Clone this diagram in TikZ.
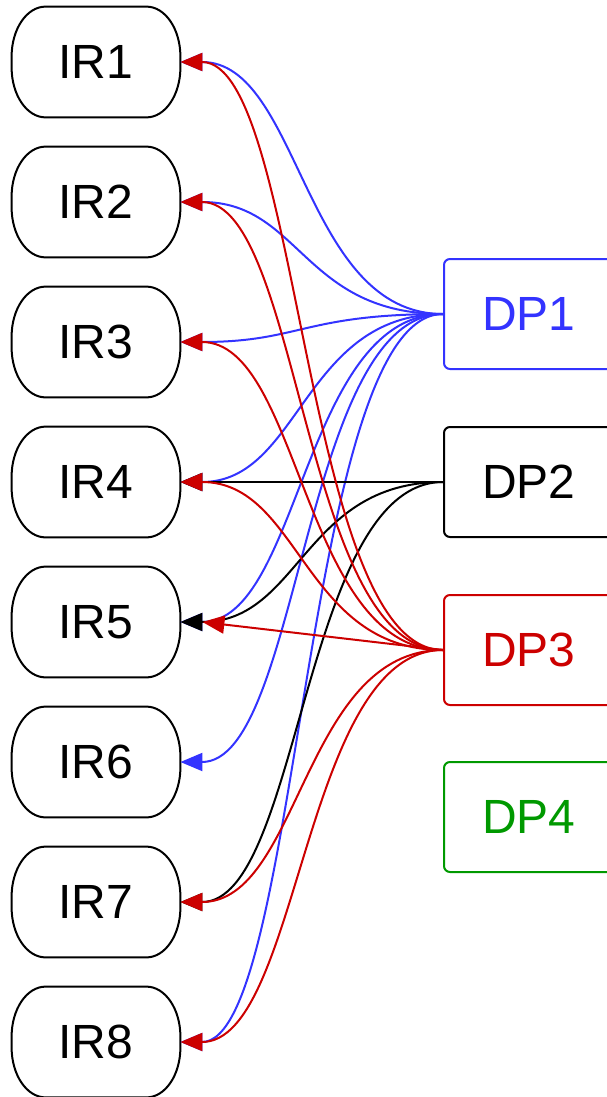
\documentclass[tikz,border=0pt]{standalone}
\usepackage{fontspec}
\setmainfont{Liberation Sans}
\usetikzlibrary{arrows.meta}

\definecolor{dpblue}{HTML}{3333FF}
\definecolor{dpred}{HTML}{CC0000}
\definecolor{dpgreen}{HTML}{009900}

% outline of an IR box, with wide elliptic corners
\newcommand{\irframe}[1]{%
	\draw[line width=1pt] ([yshift=-25pt]#1.north west) .. controls ([yshift=-11.2pt]#1.north west) and ([xshift=7.6pt]#1.north west) .. ([xshift=17pt]#1.north west)
	-- ([xshift=-17pt]#1.north east) .. controls ([xshift=-7.6pt]#1.north east) and ([yshift=-11.2pt]#1.north east) .. ([yshift=-25pt]#1.north east)
	-- ([yshift=25pt]#1.south east) .. controls ([yshift=11.2pt]#1.south east) and ([xshift=-7.6pt]#1.south east) .. ([xshift=-17pt]#1.south east)
	-- ([xshift=17pt]#1.south west) .. controls ([xshift=7.6pt]#1.south west) and ([yshift=11.2pt]#1.south west) .. ([yshift=25pt]#1.south west) -- cycle;}

\begin{document}
\begin{tikzpicture}[x=0.5pt,y=-0.5pt,
	ir/.style={minimum width=84pt, minimum height=55pt, inner sep=0pt, font=\fontsize{24}{28}\selectfont},
	dp/.style={draw, line width=1pt, rounded corners=3pt, minimum width=85pt,
		minimum height=55pt, inner sep=0pt, font=\fontsize{24}{28}\selectfont},
	link/.style={line width=1pt, -{Triangle[length=11pt,width=9pt]}}]
%\clip (0,0) rectangle (606,1097);
	\useasboundingbox (0,0) rectangle (606,1097);
	% left column
	\node[ir] (ir1) at (96,62) {IR1};
	\node[ir] (ir2) at (96,202) {IR2};
	\node[ir] (ir3) at (96,342) {IR3};
	\node[ir] (ir4) at (96,482) {IR4};
	\node[ir] (ir5) at (96,622) {IR5};
	\node[ir] (ir6) at (96,762) {IR6};
	\node[ir] (ir7) at (96,902) {IR7};
	\node[ir] (ir8) at (96,1042) {IR8};
	\irframe{ir1} \irframe{ir2} \irframe{ir3} \irframe{ir4}
	\irframe{ir5} \irframe{ir6} \irframe{ir7} \irframe{ir8}
	% right column
	\node[dp, dpblue] (dp1) at (529,314) {DP1};
	\node[dp] (dp2) at (529,482) {DP2};
	\node[dp, dpred] (dp3) at (529,650) {DP3};
	\node[dp, dpgreen] (dp4) at (529,817) {DP4};
	% DP1
	\draw[link, dpblue] (dp1.west) .. controls +(-140,0) and +(120,0) .. (ir1.east);
	\draw[link, dpblue] (dp1.west) .. controls +(-140,0) and +(120,0) .. (ir2.east);
	\draw[link, dpblue] (dp1.west) .. controls +(-140,0) and +(120,0) .. (ir3.east);
	\draw[link, dpblue] (dp1.west) .. controls +(-140,0) and +(120,0) .. (ir4.east);
	\draw[link, dpblue] (dp1.west) .. controls +(-140,0) and +(120,0) .. (ir5.east);
	\draw[link, dpblue] (dp1.west) .. controls +(-140,0) and +(120,0) .. (ir6.east);
	\draw[link, dpblue] (dp1.west) .. controls +(-140,0) and +(120,0) .. (ir8.east);
	% DP2
	\draw[link] (dp2.west) -- (ir4.east);
	\draw[link] (dp2.west) .. controls +(-140,0) and +(120,0) .. (ir5.east);
	\draw[link] (dp2.west) .. controls +(-140,0) and +(120,0) .. (ir7.east);
	% DP3
	\draw[link, dpred] (dp3.west) .. controls +(-140,0) and +(120,0) .. (ir1.east);
	\draw[link, dpred] (dp3.west) .. controls +(-140,0) and +(120,0) .. (ir2.east);
	\draw[link, dpred] (dp3.west) .. controls +(-140,0) and +(120,0) .. (ir3.east);
	\draw[link, dpred] (dp3.west) .. controls +(-140,0) and +(120,0) .. (ir4.east);
	\draw[link, dpred] (dp3.west) -- ([xshift=11pt]ir5.east);
	\draw[link, dpred] (dp3.west) .. controls +(-140,0) and +(120,0) .. (ir7.east);
	\draw[link, dpred] (dp3.west) .. controls +(-140,0) and +(120,0) .. (ir8.east);
\end{tikzpicture}
\end{document}
